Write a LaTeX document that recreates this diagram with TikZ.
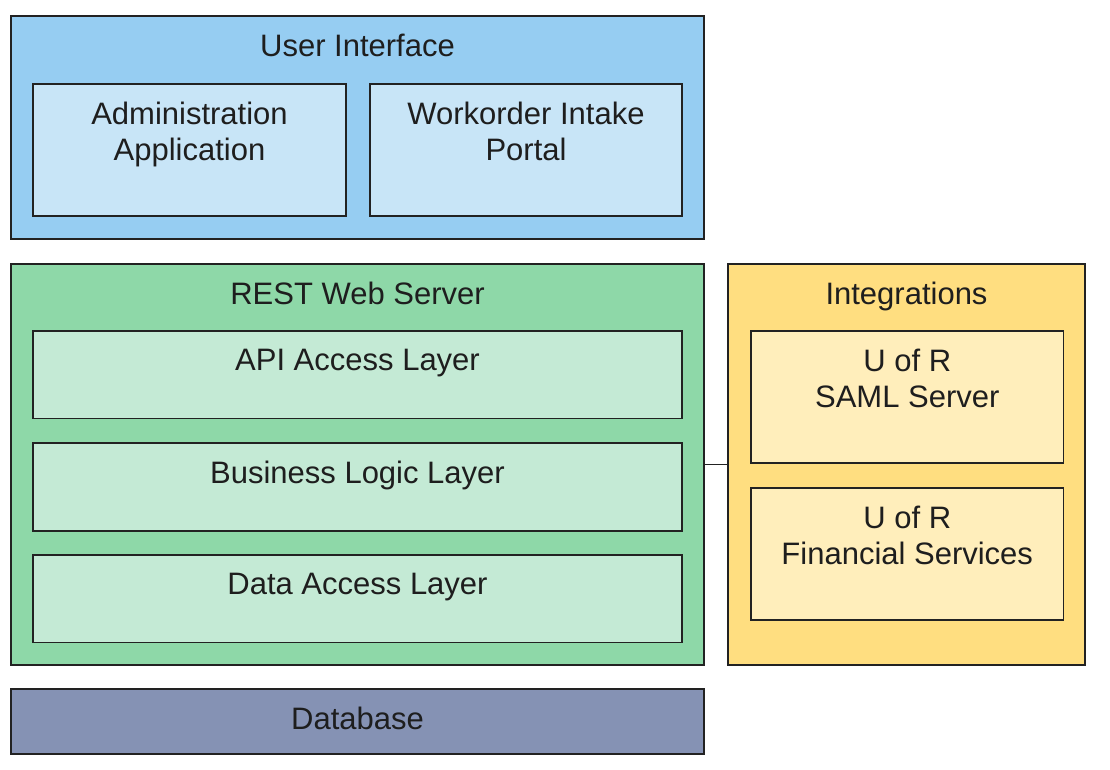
\documentclass[tikz,border=0pt]{standalone}
\usepackage{fontspec}
\setmainfont{Liberation Sans}
\definecolor{uiout}{HTML}{96CDF2}
\definecolor{uiin}{HTML}{C8E5F7}
\definecolor{grout}{HTML}{8ED8A8}
\definecolor{grin}{HTML}{C4EAD5}
\definecolor{yeout}{HTML}{FFDE80}
\definecolor{yein}{HTML}{FFEEBB}
\definecolor{dbcol}{HTML}{8592B4}
\definecolor{edge}{HTML}{222222}
\definecolor{txt}{HTML}{1E1E1E}
\begin{document}
\begin{tikzpicture}[x=1pt,y=-1pt,
  box/.style={draw=edge, line width=1.6pt, inner sep=0pt, outer sep=0pt, anchor=north west},
  lbl/.style={anchor=north, inner sep=0pt, align=center, text=txt, font=\fontsize{31}{36}\selectfont},
  link/.style={draw=edge, line width=1.6pt}]
\useasboundingbox (0,0) rectangle (1110,769);
% User interface
\node[box, fill=uiout, minimum width=693pt, minimum height=223pt] (ui) at (11,16) {};
\node[lbl] (uiT) at ([yshift=-18pt]ui.north) {User Interface};
\node[box, fill=uiin, minimum width=313pt, minimum height=132pt] (admin) at (33,84) {};
\node[lbl] (adminT) at ([yshift=-18pt]admin.north) {Administration\\Application};
\node[box, fill=uiin, minimum width=312pt, minimum height=132pt] (wo) at (370,84) {};
\node[lbl] (woT) at ([yshift=-18pt]wo.north) {Workorder Intake\\Portal};
% REST web server
\node[box, fill=grout, minimum width=693pt, minimum height=401pt] (rest) at (11,264) {};
\node[lbl] (restT) at ([yshift=-18pt]rest.north) {REST Web Server};
\node[box, fill=grin, minimum width=649pt, minimum height=87.5pt] (api) at (33,331) {};
\node[lbl] (apiT) at ([yshift=-18pt]api.north) {API Access Layer};
\node[box, fill=grin, minimum width=649pt, minimum height=88pt] (biz) at (33,443) {};
\node[lbl] (bizT) at ([yshift=-18pt]biz.north) {Business Logic Layer};
\node[box, fill=grin, minimum width=649pt, minimum height=87.5pt] (dal) at (33,555) {};
\node[lbl] (dalT) at ([yshift=-18pt]dal.north) {Data Access Layer};
% Integrations
\node[box, fill=yeout, minimum width=357pt, minimum height=401pt] (integ) at (728,264) {};
\node[lbl] (integT) at ([yshift=-18pt]integ.north) {Integrations};
\node[box, fill=yein, minimum width=312.5pt, minimum height=132pt] (saml) at (751,331) {};
\node[lbl] (samlT) at ([yshift=-18pt]saml.north) {U of R\\SAML Server};
\node[box, fill=yein, minimum width=312.5pt, minimum height=132pt] (fin) at (751,488) {};
\node[lbl] (finT) at ([yshift=-18pt]fin.north) {U of R\\Financial Services};
% Database
\node[box, fill=dbcol, minimum width=693pt, minimum height=65pt] (db) at (11,689) {};
\node[lbl] (dbT) at ([yshift=-18pt]db.north) {Database};
% connector
\draw[link] (rest.east) -- (integ.west);
\end{tikzpicture}
\end{document}
